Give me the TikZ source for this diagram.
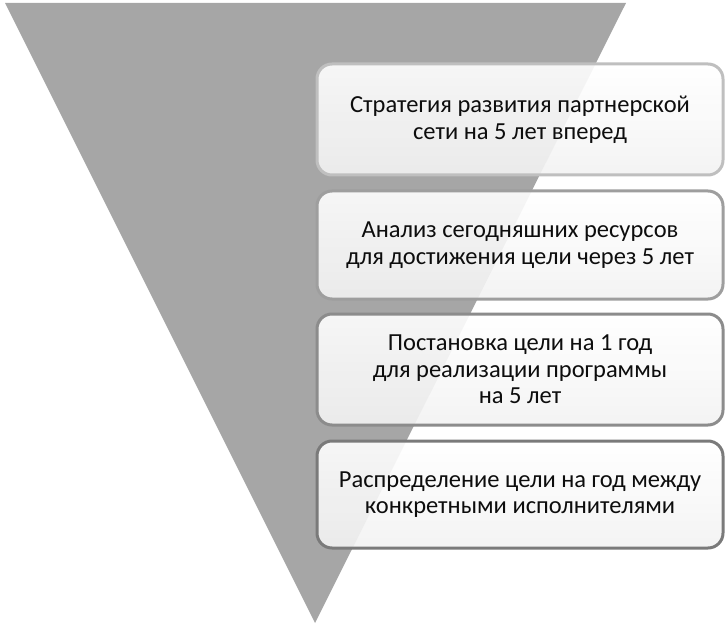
\documentclass[tikz,border=0pt]{standalone}
\usepackage{fontspec}
\setmainfont{Carlito}
\usetikzlibrary{shadings}
\begin{document}
\begin{tikzpicture}[x=1pt,y=-1pt,
  stagebox/.style={rounded corners=15pt,line width=3pt,
    top color=white,bottom color=black!5,fill opacity=0.9,draw opacity=1,
    text opacity=1,text=black!95,align=center,
    font=\fontsize{24.5}{26.5}\selectfont}]
\useasboundingbox (0,0) rectangle (725,631);
\fill[black!35] (5,3) -- (626,3) -- (315,623) -- cycle;
\node[stagebox,draw=black!25,minimum width=406pt,minimum height=111pt] (b1) at (520,119.5)
  {Стратегия развития партнерской\\сети на 5 лет вперед};
\node[stagebox,draw=black!38,minimum width=406pt,minimum height=108pt] (b2) at (520,245)
  {Анализ сегодняшних ресурсов\\для достижения цели через 5 лет};
\node[stagebox,draw=black!45,minimum width=406pt,minimum height=111pt] (b3) at (520,369.5)
  {Постановка цели на 1 год\\для реализации программы\\на 5 лет};
\node[stagebox,draw=black!52,minimum width=406pt,minimum height=107pt] (b4) at (520,494.5)
  {Распределение цели на год между\\конкретными исполнителями};
\end{tikzpicture}
\end{document}
